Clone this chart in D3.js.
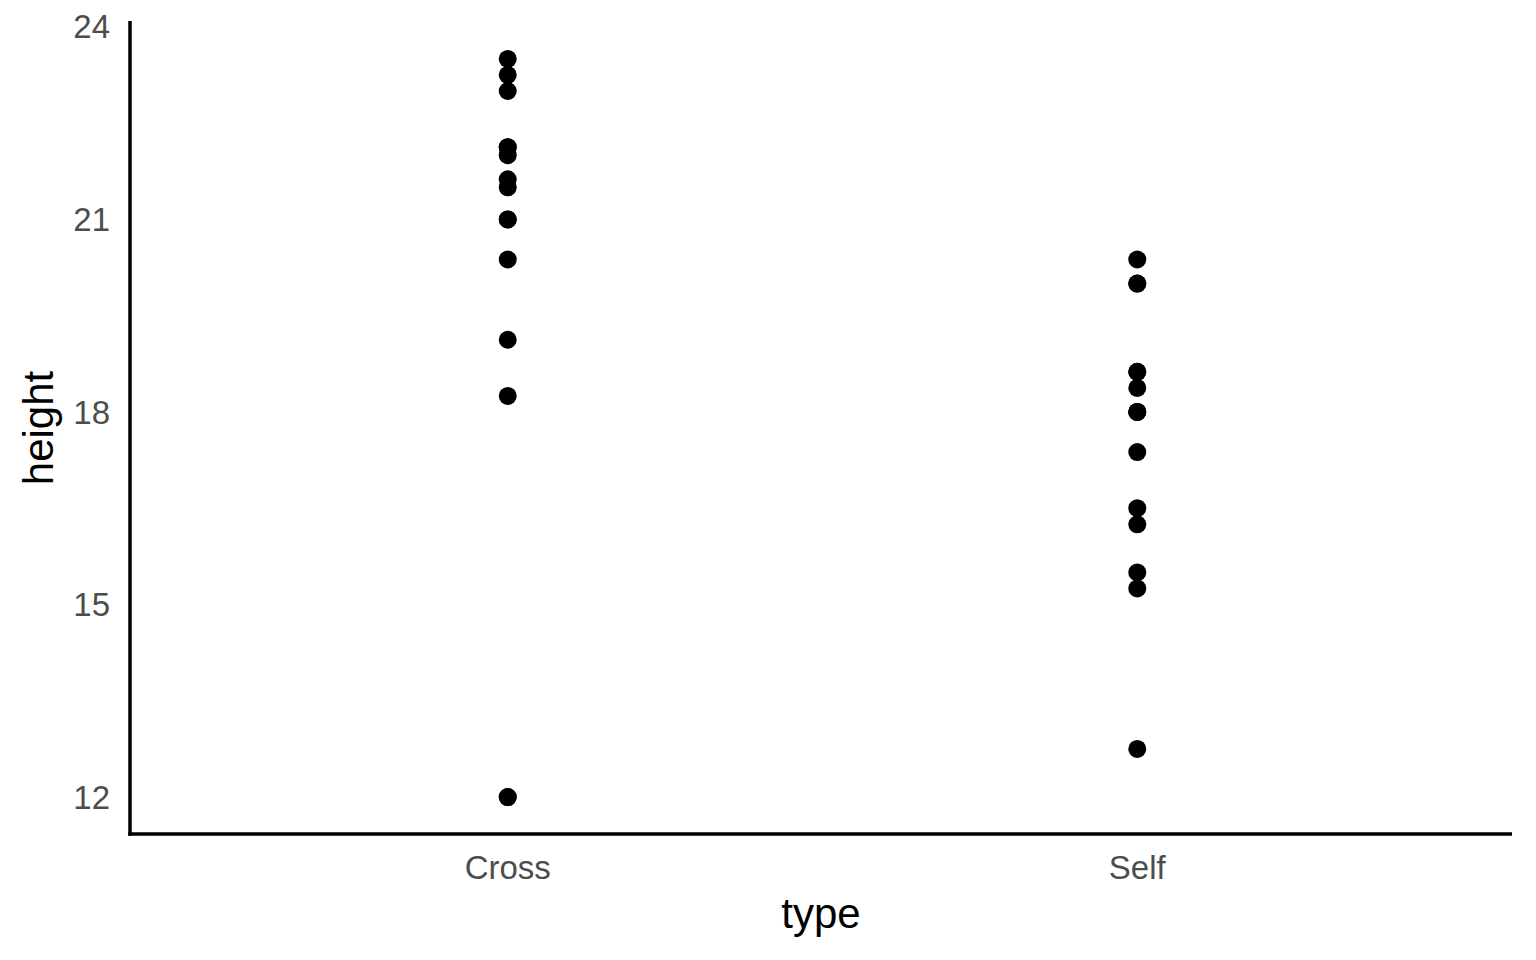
<!DOCTYPE html>
<html><head><meta charset="utf-8">
<script src="https://cdn.jsdelivr.net/npm/d3@7"></script>
<style>html,body{margin:0;padding:0;background:#fff;}</style>
</head><body>
<script>
const categories = ["Cross", "Self"];
const crossHeights = [23.5, 12, 21, 22, 19.125, 21.5, 22.125, 20.375, 18.25, 21.625, 23.25, 21, 22.125, 23, 12];
const selfHeights = [17.375, 20.375, 20, 20, 18.375, 18.625, 18.625, 15.25, 16.5, 18, 16.25, 18, 12.75, 15.5, 18];
const yTicks = [12, 15, 18, 21, 24];

const W = 1536, H = 960;
const L = 130, R = 1515, T = 22, B = 834;
const data = [];
crossHeights.forEach(v => data.push({type: "Cross", height: v}));
selfHeights.forEach(v => data.push({type: "Self", height: v}));

const svg = d3.select("body").append("svg").attr("width", W).attr("height", H);

const allV = crossHeights.concat(selfHeights);
const ext = d3.extent(allV);
const pad = (ext[1] - ext[0]) * 0.05;
const y = d3.scaleLinear().domain([ext[0] - pad, ext[1] + pad]).range([B, T]);
// discrete expansion 0.6 units each side
const xs = d3.scaleLinear().domain([0.4, 2.6]).range([L, R]);
const xPos = c => xs(categories.indexOf(c) + 1);

const font = "'Liberation Sans', Arial, Helvetica, sans-serif";

svg.append("g").selectAll("circle").data(data).join("circle")
  .attr("cx", d => xPos(d.type)).attr("cy", d => y(d.height)).attr("r", 9).attr("fill", "#000");

// axes lines
svg.append("line").attr("x1", L).attr("x2", L).attr("y1", T - 1).attr("y2", B + 1.75).attr("stroke", "#000").attr("stroke-width", 3.5);
svg.append("line").attr("x1", L - 1.75).attr("x2", 1512).attr("y1", B).attr("y2", B).attr("stroke", "#000").attr("stroke-width", 3.5);

svg.append("g").selectAll("text").data(yTicks).join("text")
  .attr("x", 110).attr("y", d => y(d)).attr("dy", "0.35em").attr("text-anchor", "end")
  .attr("font-family", font).attr("font-size", 33).attr("fill", "#4d4d4d").text(d => d);

svg.append("g").selectAll("text").data(categories).join("text")
  .attr("x", d => xPos(d)).attr("y", 879).attr("text-anchor", "middle")
  .attr("font-family", font).attr("font-size", 33).attr("fill", "#4d4d4d").text(d => d);

svg.append("text").attr("x", (L + 1512) / 2).attr("y", 928).attr("text-anchor", "middle")
  .attr("font-family", font).attr("font-size", 42).attr("fill", "#000").text("type");

svg.append("text").attr("transform", `translate(53,${(T + B) / 2}) rotate(-90)`).attr("text-anchor", "middle")
  .attr("font-family", font).attr("font-size", 42).attr("fill", "#000").text("height");
</script>
</body></html>
